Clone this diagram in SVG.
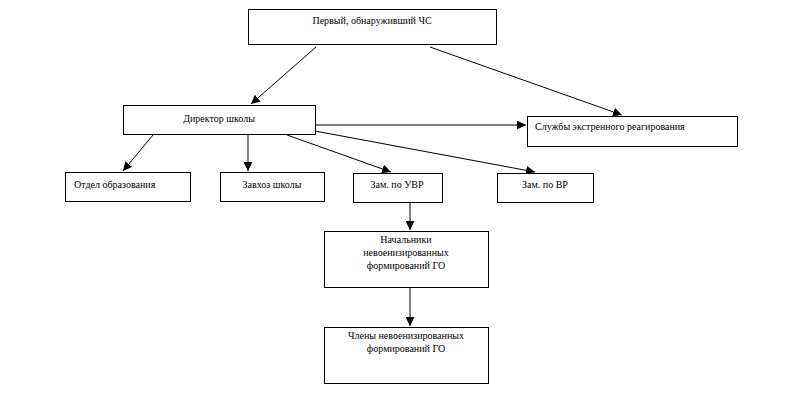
<svg xmlns="http://www.w3.org/2000/svg" width="796" height="413" viewBox="0 0 796 413">
<defs>
<style>
.box{fill:#fff;stroke:#000;stroke-width:1}
.t{font-family:"Times New Roman","Liberation Serif",serif;font-size:10px;fill:#000}
.c{text-anchor:middle}
.ln{stroke:#000;stroke-width:1;fill:none;marker-end:url(#ah)}
</style>
<marker id="ah" viewBox="0 0 10 10" refX="10" refY="5" markerWidth="9" markerHeight="9" markerUnits="userSpaceOnUse" orient="auto">
<path d="M0,0 L10,5 L0,10 z" fill="#000"/>
</marker>
</defs>
<rect width="796" height="413" fill="#fff"/>
<g id="connectors">
<line class="ln" x1="316" y1="47" x2="251" y2="104"/>
<line class="ln" x1="430" y1="47" x2="622" y2="115"/>
<line class="ln" x1="315" y1="125" x2="526" y2="125"/>
<line class="ln" x1="153" y1="135" x2="123" y2="171"/>
<line class="ln" x1="248" y1="135" x2="248" y2="171"/>
<line class="ln" x1="287" y1="135" x2="391" y2="172"/>
<line class="ln" x1="315" y1="131" x2="535" y2="172"/>
<line class="ln" x1="410" y1="202" x2="410" y2="230"/>
<line class="ln" x1="410" y1="287" x2="410" y2="326"/>
</g>
<g id="n1"><rect class="box" x="248.5" y="9.5" width="248" height="35"/><text class="t c" x="372" y="24">Первый, обнаруживший ЧС</text></g>
<g id="n2"><rect class="box" x="123.5" y="105.5" width="192" height="29"/><text class="t c" x="219" y="122">Директор школы</text></g>
<g id="n3"><rect class="box" x="527.5" y="116.5" width="210" height="30"/><text class="t" x="535" y="130">Службы экстренного реагирования</text></g>
<g id="n4"><rect class="box" x="65.5" y="172.5" width="125" height="29"/><text class="t" x="74" y="188">Отдел образования</text></g>
<g id="n5"><rect class="box" x="220.5" y="172.5" width="104" height="29"/><text class="t c" x="272" y="188">Завхоз школы</text></g>
<g id="n6"><rect class="box" x="353.5" y="173.5" width="89" height="29"/><text class="t c" x="397" y="188">Зам. по УВР</text></g>
<g id="n7"><rect class="box" x="497.5" y="173.5" width="96" height="29"/><text class="t c" x="545" y="188">Зам. по ВР</text></g>
<g id="n8"><rect class="box" x="324.5" y="231.5" width="164" height="56"/><text class="t c" x="406" y="243">Начальники</text><text class="t c" x="406" y="256">невоенизированных</text><text class="t c" x="406" y="269">формирований ГО</text></g>
<g id="n9"><rect class="box" x="324.5" y="327.5" width="164" height="56"/><text class="t c" x="406" y="339">Члены невоенизированных</text><text class="t c" x="406" y="352">формирований ГО</text></g>
</svg>
